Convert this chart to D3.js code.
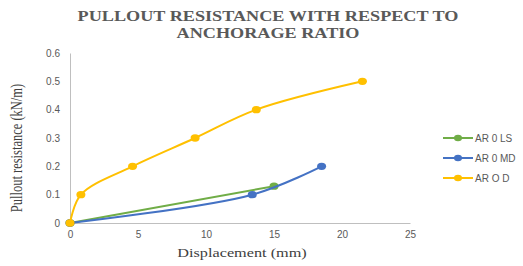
<!DOCTYPE html>
<html>
<head>
<meta charset="utf-8">
<script src="https://cdn.jsdelivr.net/npm/d3@7"></script>
<style>
  body { margin: 0; background: #fff; }
  .tick text { font-family: "Liberation Sans", Arial, sans-serif; font-size: 10px; fill: #595959; }
</style>
</head>
<body>
<div id="chart"></div>
<script>
// series data (displacement mm, pullout resistance kN/m)
var seriesNames = ["AR 0 LS", "AR 0 MD", "AR O D"];
var seriesColors = ["#70AD47", "#4472C4", "#FFC000"];
var ls_x = [0, 15.0];
var ls_y = [0, 0.13];
var md_x = [0, 13.4, 18.5];
var md_y = [0, 0.10, 0.20];
var od_x = [0, 0.8, 4.6, 9.2, 13.7, 21.5];
var od_y = [0, 0.10, 0.20, 0.30, 0.40, 0.50];
var xTicks = [0, 5, 10, 15, 20, 25];
var yTicks = [0, 0.1, 0.2, 0.3, 0.4, 0.5, 0.6];

var width = 523, height = 266;
var svg = d3.select("#chart").append("svg")
    .attr("width", width)
    .attr("height", height);

var x = d3.scaleLinear().domain([0, 25]).range([70, 410]);
var y = d3.scaleLinear().domain([0, 0.6]).range([223, 53]);

var serif = "'Liberation Serif', 'Times New Roman', serif";

// title (the source picture is stretched sideways, so the text is too)
var title = svg.append("g")
    .attr("transform", "translate(268,0) scale(1.3,1)")
    .append("text")
    .attr("text-anchor", "middle")
    .style("font-family", serif)
    .style("font-weight", "bold")
    .style("font-size", "14px")
    .style("fill", "#595959");
title.append("tspan").attr("x", 0).attr("y", 21).text("PULLOUT RESISTANCE WITH RESPECT TO");
title.append("tspan").attr("x", 0).attr("y", 38).text("ANCHORAGE RATIO");

// axes
var xAxis = svg.append("g")
    .attr("transform", "translate(0," + y(0) + ")")
    .call(d3.axisBottom(x).tickValues(xTicks).tickSize(0).tickPadding(8).tickFormat(d3.format("d")));
xAxis.select(".domain").attr("stroke", "#bfbfbf");

var yAxis = svg.append("g")
    .attr("transform", "translate(" + x(0) + ",0)")
    .call(d3.axisLeft(y).tickValues(yTicks).tickSize(0).tickPadding(10)
        .tickFormat(function (d) { return d === 0 ? "0" : d3.format(".1f")(d); }));
yAxis.select(".domain").attr("stroke", "#bfbfbf");

// axis titles
svg.append("g")
    .attr("transform", "translate(242,257) scale(1.3,1)")
    .append("text")
    .attr("text-anchor", "middle")
    .style("font-family", serif)
    .style("font-size", "12.5px")
    .style("fill", "#404040")
    .text("Displacement (mm)");

svg.append("g")
    .attr("transform", "translate(22,148) scale(1.3,1) rotate(-90)")
    .append("text")
    .attr("text-anchor", "middle")
    .style("font-family", serif)
    .style("font-size", "12.5px")
    .style("fill", "#404040")
    .text("Pullout resistance (kN/m)");

// series
var series = [
    { xs: ls_x, ys: ls_y },
    { xs: md_x, ys: md_y },
    { xs: od_x, ys: od_y }
];

var line = d3.line()
    .x(function (d) { return x(d[0]); })
    .y(function (d) { return y(d[1]); })
    .curve(d3.curveCatmullRom.alpha(0.5));

series.forEach(function (s, i) {
    var pts = s.xs.map(function (v, j) { return [v, s.ys[j]]; });
    svg.append("path")
        .datum(pts)
        .attr("d", line)
        .attr("fill", "none")
        .attr("stroke", seriesColors[i])
        .attr("stroke-width", 2);
    svg.selectAll(".pt" + i)
        .data(pts)
        .enter().append("ellipse")
        .attr("cx", function (d) { return x(d[0]); })
        .attr("cy", function (d) { return y(d[1]); })
        .attr("rx", 4.5)
        .attr("ry", 3.7)
        .attr("fill", seriesColors[i]);
});

// legend
var legend = svg.append("g").attr("transform", "translate(443,138)");
seriesNames.forEach(function (name, i) {
    var g = legend.append("g").attr("transform", "translate(0," + i * 20 + ")");
    g.append("line").attr("x1", 0).attr("x2", 30).attr("y1", 0).attr("y2", 0)
        .attr("stroke", seriesColors[i]).attr("stroke-width", 2);
    g.append("ellipse").attr("cx", 15).attr("cy", 0).attr("rx", 4).attr("ry", 3.3).attr("fill", seriesColors[i]);
    g.append("text").attr("x", 32).attr("y", 4)
        .style("font-family", "'Liberation Sans', Arial, sans-serif")
        .style("font-size", "10px")
        .style("fill", "#595959")
        .text(name);
});
</script>
</body>
</html>
